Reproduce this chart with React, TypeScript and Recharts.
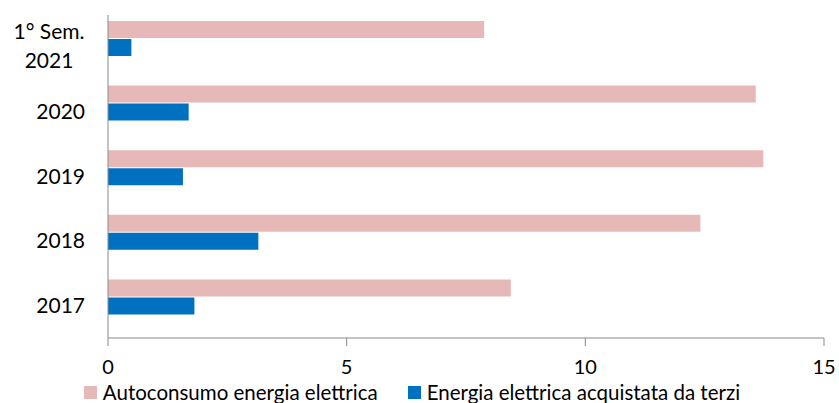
import { BarChart, Bar, XAxis, YAxis, Legend } from "recharts";

const categories = ["1° Sem. 2021", "2020", "2019", "2018", "2017"];
const autoconsumo = [7.88, 13.57, 13.73, 12.41, 8.44];
const acquistata = [0.49, 1.69, 1.57, 3.15, 1.81];
const xTicks = [0, 5, 10, 15];

const seriesNames = ["Autoconsumo energia elettrica", "Energia elettrica acquistata da terzi"];
const colors = ["#E6B9B8", "#0070C0"];

const FONT = "Lato, 'Open Sans', sans-serif";
const AXIS = "#898989";

const data = categories.map((cat, i) => ({
  cat,
  autoconsumo: autoconsumo[i],
  acquistata: acquistata[i],
}));

// long labels ("1° Sem. 2021") break into two centred lines
const CategoryTick = ({ x, y, payload }: any) => {
  const label: string = payload.value;
  const cut = label.lastIndexOf(" ");
  if (cut > 0) {
    const lines = [label.slice(0, cut), label.slice(cut + 1)];
    return (
      <text x={x - 36} y={y} textAnchor="middle" fill="#000" fontSize={21} fontFamily={FONT}>
        {lines.map((l, k) => (
          <tspan key={k} x={x - 36} dy={k === 0 ? "-0.4em" : "1.4em"}>{l}</tspan>
        ))}
      </text>
    );
  }
  return (
    <text x={x} y={y} dy="0.35em" textAnchor="end" fill="#000" fontSize={21} fontFamily={FONT}>
      {label}
    </text>
  );
};

const ChartLegend = () => (
  <div style={{ display: "flex", justifyContent: "center", gap: 30, fontFamily: FONT, fontSize: 20.5, lineHeight: "20px", color: "#000" }}>
    {seriesNames.map((name, i) => (
      <div key={name} style={{ display: "flex", alignItems: "center", gap: 6 }}>
        <span style={{ width: 13, height: 13, background: colors[i], display: "inline-block" }} />
        <span>{name}</span>
      </div>
    ))}
  </div>
);

export default function App() {
  return (
    <div style={{ position: "absolute", left: 0, top: 0, background: "#fff" }}>
      <BarChart
        width={839}
        height={403}
        data={data}
        layout="vertical"
        margin={{ top: 15, right: 15, left: 0, bottom: 1 }}
        barSize={17}
        barGap={1}
      >
        <XAxis
          type="number"
          domain={[0, 15]}
          ticks={xTicks}
          height={44}
          stroke={AXIS}
          tickSize={8}
          tickMargin={14}
          tick={{ fill: "#000", fontSize: 20, fontFamily: FONT }}
        />
        <YAxis
          type="category"
          dataKey="cat"
          width={108}
          stroke={AXIS}
          tickLine={false}
          tickSize={0}
          tickMargin={23}
          tick={<CategoryTick />}
        />
        <Legend verticalAlign="bottom" height={20} content={<ChartLegend />} />
        <Bar dataKey="autoconsumo" name={seriesNames[0]} fill={colors[0]} isAnimationActive={false} />
        <Bar dataKey="acquistata" name={seriesNames[1]} fill={colors[1]} isAnimationActive={false} />
        {/* empty third slot, keeps the pair in the upper part of each band */}
        <Bar dataKey="riserva" fill="none" legendType="none" isAnimationActive={false} />
      </BarChart>
    </div>
  );
}
